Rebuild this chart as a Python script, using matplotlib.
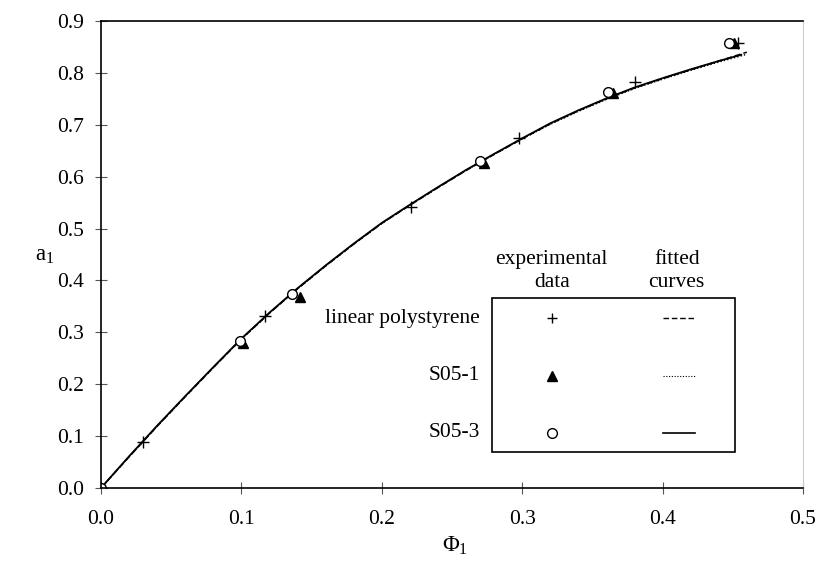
import matplotlib
matplotlib.use("Agg")
import matplotlib.pyplot as plt
from matplotlib.lines import Line2D
from matplotlib.patches import Rectangle

plt.rcParams['font.family'] = ['Liberation Serif', 'DejaVu Serif']
plt.rcParams['mathtext.fontset'] = 'custom'
plt.rcParams['mathtext.rm'] = 'Liberation Serif'
plt.rcParams['mathtext.it'] = 'Liberation Serif:italic'

# experimental data
ps_x = [0.0, 0.030, 0.117, 0.221, 0.298, 0.380, 0.454]
ps_y = [0.0, 0.089, 0.331, 0.541, 0.675, 0.783, 0.858]
s051_x = [0.0, 0.101, 0.142, 0.273, 0.365, 0.451]
s051_y = [0.0, 0.280, 0.368, 0.627, 0.762, 0.857]
s053_x = [0.0, 0.099, 0.136, 0.270, 0.361, 0.447]
s053_y = [0.0, 0.283, 0.373, 0.630, 0.764, 0.857]

# fitted curves
fit_x = [0.0, 0.02, 0.04, 0.06, 0.08, 0.10, 0.12, 0.14, 0.16, 0.18, 0.20, 0.22,
         0.24, 0.26, 0.28, 0.30, 0.32, 0.34, 0.36, 0.38, 0.40, 0.42, 0.44, 0.46]
fit_ps = [0.0, 0.060, 0.119, 0.176, 0.232, 0.287, 0.337, 0.384, 0.428, 0.470, 0.510,
          0.545, 0.579, 0.612, 0.643, 0.673, 0.702, 0.727, 0.750, 0.771, 0.789, 0.806,
          0.823, 0.840]
fit_s051 = [0.0, 0.060, 0.119, 0.176, 0.232, 0.287, 0.337, 0.384, 0.428, 0.470, 0.510,
            0.545, 0.579, 0.612, 0.643, 0.673, 0.701, 0.726, 0.749, 0.770, 0.788, 0.805,
            0.821, 0.836]
fit_s053_x = fit_x[:-1] + [0.456]
fit_s053 = [0.0, 0.061, 0.120, 0.177, 0.233, 0.288, 0.338, 0.385, 0.429, 0.471, 0.511,
            0.546, 0.580, 0.613, 0.644, 0.674, 0.703, 0.728, 0.751, 0.772, 0.790, 0.807,
            0.823, 0.835]

series_names = ['linear polystyrene', 'S05-1', 'S05-3']

FS = 15.5

fig = plt.figure(figsize=(8.19, 5.69), dpi=100)
ax = fig.add_axes([0.1233, 0.1424, 0.8572, 0.8206])

ax.plot(fit_x, fit_ps, color='black', lw=1.1, ls=(0, (4, 2)))
ax.plot(fit_x, fit_s051, color='black', lw=1.0, ls=(0, (1, 1.5)))
ax.plot(fit_s053_x, fit_s053, color='black', lw=1.3, ls='-')

ax.plot(ps_x, ps_y, ls='none', marker='+', ms=8, mew=1.0, color='black')
ax.plot(s051_x, s051_y, ls='none', marker='^', ms=7, color='black')
ax.plot(s053_x, s053_y, ls='none', marker='o', ms=7, mfc='white', mec='black', mew=1.0)

ax.set_xlim(0, 0.5)
ax.set_ylim(0, 0.9)
ax.set_xticks([0.0, 0.1, 0.2, 0.3, 0.4, 0.5])
ax.set_yticks([0.0, 0.1, 0.2, 0.3, 0.4, 0.5, 0.6, 0.7, 0.8, 0.9])
ax.set_xticklabels(['%.1f' % v for v in ax.get_xticks()])
ax.set_yticklabels(['%.1f' % v for v in ax.get_yticks()])
ax.tick_params(direction='inout', length=8, width=0.8, color='#555555',
               labelsize=FS, pad=8)
ax.tick_params(axis='x', pad=12)
for s in ['left', 'bottom', 'top']:
    ax.spines[s].set_linewidth(1.2)
ax.spines['right'].set_color('#cccccc')
ax.spines['right'].set_linewidth(0.8)

fig.text(35 / 819, 1 - 255 / 569, 'a$_1$', fontsize=FS + 1, ha='left', va='center')
fig.text(455 / 819, 1 - 546 / 569, 'Φ$_1$', fontsize=FS + 1, ha='center', va='center')

# legend table
T = ax.transAxes
ax.add_patch(Rectangle((0.557, 0.077), 0.346, 0.330, transform=T, fill=False,
                       ec='black', lw=1.2, zorder=5))
ax.text(0.642, 0.465, 'experimental\ndata', transform=T, ha='center', va='center',
        fontsize=FS, linespacing=1.25)
ax.text(0.820, 0.465, 'fitted\ncurves', transform=T, ha='center', va='center',
        fontsize=FS, linespacing=1.25)
row_y = [0.364, 0.240, 0.118]
marker_styles = [dict(marker='+', ms=7, mew=1.0, color='black'),
                 dict(marker='^', ms=7, color='black'),
                 dict(marker='o', ms=7, mfc='white', mec='black', mew=1.0)]
line_styles = [dict(ls=(0, (4, 2)), lw=1.0), dict(ls=(0, (1, 1.5)), lw=0.8),
               dict(ls='-', lw=1.2)]
for name, yy, ms, ls in zip(series_names, row_y, marker_styles, line_styles):
    ax.text(0.540, yy, name, transform=T, ha='right', va='center', fontsize=FS)
    ax.add_line(Line2D([0.642], [yy], transform=T, ls='none', **ms))
    ax.add_line(Line2D([0.801, 0.846], [yy, yy], transform=T, color='black', **ls))

fig.savefig('out.png', dpi=100)
